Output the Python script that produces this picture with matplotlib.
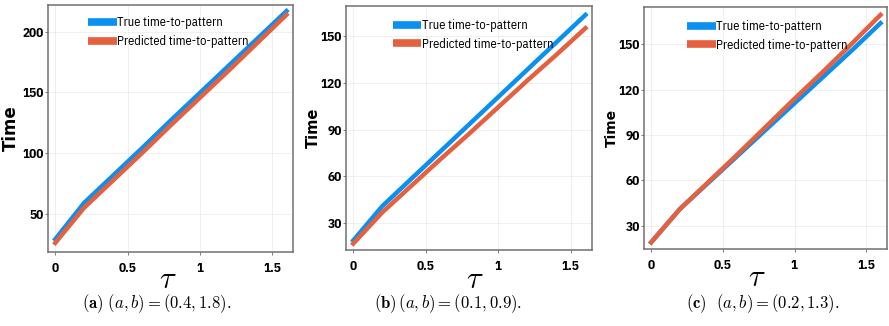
import matplotlib
matplotlib.use("Agg")
import matplotlib.pyplot as plt

plt.rcParams['font.family'] = ['IBM Plex Sans Condensed', 'DejaVu Sans']
plt.rcParams['mathtext.fontset'] = 'cm'

tau = [0.0, 0.2, 0.4, 0.6, 0.8, 1.0, 1.2, 1.4, 1.6]

# (a,b) = (0.4, 1.8)
true_a = [29, 59, 81.5, 104, 127, 149.5, 172, 194.5, 217]
pred_a = [26, 55, 77.5, 100, 123, 145.5, 168, 191, 214]
# (a,b) = (0.1, 0.9)
true_b = [19, 41, 58.5, 76, 93.5, 111, 128.5, 146, 163.5]
pred_b = [17, 37, 54, 71, 87.5, 104.5, 121.5, 138, 155]
# (a,b) = (0.2, 1.3)
true_c = [19, 41, 58.5, 76, 93.5, 111, 128.5, 146, 164]
pred_c = [19, 41, 59, 77, 95.5, 114, 132, 150.5, 169.5]

yticks_a = [50, 100, 150, 200]
yticks_bc = [30, 60, 90, 120, 150]

captions = [r'$\mathbf{(a)}\ (a,b) = (0.4, 1.8).$',
            r'$\mathbf{(b)}\,(a,b) = (0.1, 0.9).$',
            r'$\mathbf{(c)}\ \ (a,b) = (0.2, 1.3).$']

panels = [
    (true_a, pred_a, yticks_a, (18.5, 222)),
    (true_b, pred_b, yticks_bc, (12.9, 169.2)),
    (true_c, pred_c, yticks_bc, (14.6, 174.7)),
]
boxes = [
    [0.054, 0.227, 0.2756, 0.7577],
    [0.3892, 0.2331, 0.2767, 0.7485],
    [0.7244, 0.2362, 0.2733, 0.7423],
]
caption_x = [0.176, 0.504, 0.858]
ylabel_size = [12, 10.5, 10]
ylabel_x = [-0.15, -0.134, -0.132]
tau_pos = [(0.49, -0.11), (0.524, -0.12), (0.465, -0.115)]
legend_pos = [(0.163, 0.89), (0.19, 0.881), (0.177, 0.88)]

blue = '#0a90f0'
orange = '#e5603f'

fig = plt.figure(figsize=(8.89, 3.26), dpi=100)
for i, (t, p, yt, ylim) in enumerate(panels):
    ax = fig.add_axes(boxes[i])
    ax.plot(tau, t, color=blue, lw=3.2, label='True time-to-pattern')
    ax.plot(tau, p, color=orange, lw=3.2, label='Predicted time-to-pattern')
    ax.set_xlim(-0.05, 1.645)
    ax.set_ylim(*ylim)
    ax.set_xticks([0, 0.5, 1, 1.5])
    ax.set_xticklabels(['0', '0.5', '1', '1.5'])
    ax.set_yticks(yt)
    ax.tick_params(direction='out', length=2, width=0.6, color='#666666',
                   labelsize=9.5)
    ax.tick_params(axis='x', pad=5)
    ax.tick_params(axis='y', pad=1)
    for lab in ax.get_xticklabels() + ax.get_yticklabels():
        lab.set_fontweight('bold')
    ax.grid(True, color='#000000', alpha=0.07, lw=0.6)
    for sp in ax.spines.values():
        sp.set_color('#707070')
        sp.set_linewidth(1.1)

    ax.set_ylabel('Time', fontsize=ylabel_size[i], fontweight='bold',
                  family=['DejaVu Sans'])
    ax.yaxis.set_label_coords(ylabel_x[i], 0.5)
    ax.yaxis.label.set_va('center')
    ax.set_xlabel(r'$\tau$', fontsize=22)
    ax.xaxis.set_label_coords(*tau_pos[i])
    ax.xaxis.label.set_va('center')

    leg = ax.legend(loc='center left', bbox_to_anchor=legend_pos[i], frameon=False,
                    fontsize=9, handlelength=2.3, handletextpad=0.05,
                    borderaxespad=0, borderpad=0, labelspacing=0.45)
    for h in leg.get_lines():
        h.set_linewidth(5.5)
        h.set_solid_capstyle('butt')
    fig.text(caption_x[i], 0.07, captions[i], ha='center', va='center', fontsize=12)

fig.savefig('out.png', dpi=100)
